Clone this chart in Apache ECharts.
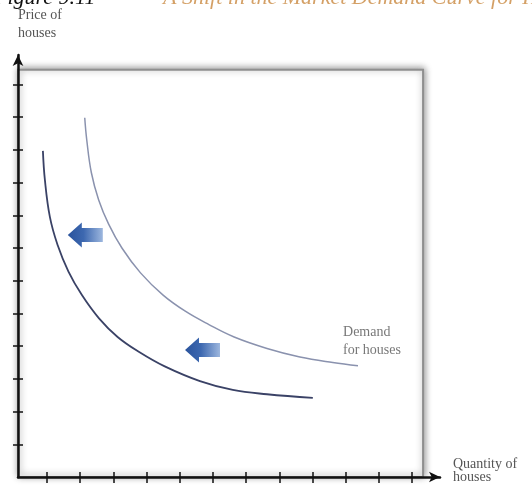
<!DOCTYPE html>
<html><head><meta charset="utf-8">
<script src="https://cdn.jsdelivr.net/npm/echarts@6/dist/echarts.min.js"></script>
<style>html,body{margin:0;padding:0;background:#fff;overflow:hidden}#c{width:532px;height:489px}</style>
</head><body><div id="c"></div>
<script>
// ---- data ----
const xTicks = [1,2,3,4,5,6,7,8,9,10,11,12];
const yTicks = [1,2,3,4,5,6,7,8,9,10,11,12];
const demandOriginal = [[2.14,10.98],[2.20,10.31],[2.34,9.30],[2.56,8.47],[2.86,7.73],[3.26,7.00],[3.82,6.24],[4.50,5.56],[5.18,5.06],[5.88,4.66],[6.64,4.28],[7.63,3.93],[8.62,3.67],[9.61,3.50],[10.37,3.40]];
const demandNew = [[0.88,9.97],[0.94,9.08],[1.09,7.95],[1.32,7.10],[1.65,6.28],[2.05,5.57],[2.57,4.85],[3.13,4.28],[3.78,3.82],[4.55,3.38],[5.61,2.93],[6.60,2.66],[7.63,2.53],[9.01,2.42]];
const shiftArrows = [[1.63,7.40],[5.16,3.88]];
const curveLabel = 'Demand\nfor houses';
const labelAnchor = [[9.92,4.16]];
const frameCorners = [[0.13,0],[12.33,12.45]];
const xName = 'Quantity of\nhouses\n';
const yName = 'Price of\nhouses';
const figNumber = 'Figure 9.11';
const figTitle = 'A Shift in the Market Demand Curve for Houses';

const serif = '"Liberation Serif", "DejaVu Serif", serif';
const X_MIN = 0.13, X_MAX = 12.84, Y_MIN = 0, Y_MAX = 12.9;

const chart = echarts.init(document.getElementById('c'), null, {renderer:'canvas'});

const axisTextStyle = {fontFamily: serif, fontSize: 14, color: '#555'};

chart.setOption({
  animation: false,
  backgroundColor: '#fff',
  grid: {left: 18, right: 92, top: 55, bottom: 12, containLabel: false, outerBoundsMode: 'none'},
  graphic: [
    {type:'text', left: -6, top: -13, z: 10,
     style:{text: figNumber, font: 'italic 22px ' + serif, fill: '#111'}},
    {type:'text', left: 163, top: -13, z: 10,
     style:{text: figTitle, font: 'italic 22px ' + serif, fill: '#d4a066'}}
  ],
  xAxis: [
    {type:'value', min: X_MIN, max: X_MAX, z: 6,
     name: xName, nameLocation:'end', nameGap: 13,
     nameTextStyle: Object.assign({align:'left', verticalAlign:'middle', lineHeight: 12.5}, axisTextStyle),
     axisLine:{show:true, onZero:false, symbol:['none','arrow'], symbolSize:[8,11], lineStyle:{color:'#111', width:2.5}},
     axisTick:{show:true, inside:false, length:6, customValues: xTicks, lineStyle:{color:'#111', width:1.5}},
     axisLabel:{show:false}, splitLine:{show:false}},
    {type:'value', min: X_MIN, max: X_MAX, position:'bottom', z: 6,
     axisLine:{show:false, onZero:false},
     axisTick:{show:true, inside:true, length:5, customValues: xTicks, lineStyle:{color:'#111', width:1.5}},
     axisLabel:{show:false}, splitLine:{show:false}}
  ],
  yAxis: [
    {type:'value', min: Y_MIN, max: Y_MAX, z: 6,
     name: yName, nameLocation:'end', nameGap: 13,
     nameTextStyle: Object.assign({align:'left', verticalAlign:'bottom', lineHeight: 18}, axisTextStyle),
     axisLine:{show:true, onZero:false, symbol:['none','arrow'], symbolSize:[8,11], lineStyle:{color:'#111', width:2.5}},
     axisTick:{show:true, inside:false, length:5, customValues: yTicks, lineStyle:{color:'#111', width:1.5}},
     axisLabel:{show:false}, splitLine:{show:false}},
    {type:'value', min: Y_MIN, max: Y_MAX, position:'left', z: 6,
     axisLine:{show:false, onZero:false},
     axisTick:{show:true, inside:true, length:5, customValues: yTicks, lineStyle:{color:'#111', width:1.5}},
     axisLabel:{show:false}, splitLine:{show:false}}
  ],
  series: [
    {type:'line', name:'frame', data: [], xAxisIndex:0, yAxisIndex:0, silent:true,
     markArea:{silent:true,
       itemStyle:{color:'#ffffff', borderColor:'#8f8f8f', borderWidth:2,
                  shadowBlur:7, shadowColor:'rgba(0,0,0,0.45)', shadowOffsetX:1, shadowOffsetY:-1},
       data:[[{coord: frameCorners[0]}, {coord: frameCorners[1]}]]}},
    {type:'line', name:'Demand', data: demandOriginal, smooth: 0.4, showSymbol:false,
     lineStyle:{color:'#8a92ae', width:1.5}, z: 3},
    {type:'line', name:'New demand', data: demandNew, smooth: 0.4, showSymbol:false,
     lineStyle:{color:'#3a4266', width:1.8}, z: 3},
    {type:'custom', name:'shift', data: shiftArrows, z: 4,
     renderItem: function(params, api){
       const p = api.coord([api.value(0), api.value(1)]);
       const hl = 14, L = 35, hh = 12.5, sh = 7;
       return {type:'polygon',
         shape:{points:[[p[0],p[1]],[p[0]+hl,p[1]-hh],[p[0]+hl,p[1]-sh],[p[0]+L,p[1]-sh],[p[0]+L,p[1]+sh],[p[0]+hl,p[1]+sh],[p[0]+hl,p[1]+hh]]},
         style:{fill: new echarts.graphic.LinearGradient(0,0,1,0,[
           {offset:0, color:'#2a539c'},{offset:0.45, color:'#3d68b0'},{offset:1, color:'#9db7de'}])}};
     }},
    {type:'scatter', name:'label', data: labelAnchor, symbolSize: 0, silent:true,
     label:{show:true, position:'right', distance:0, formatter: curveLabel,
            fontFamily: serif, fontSize: 14, lineHeight: 18, color:'#555', align:'left'}}
  ]
});
</script>
</body></html>
